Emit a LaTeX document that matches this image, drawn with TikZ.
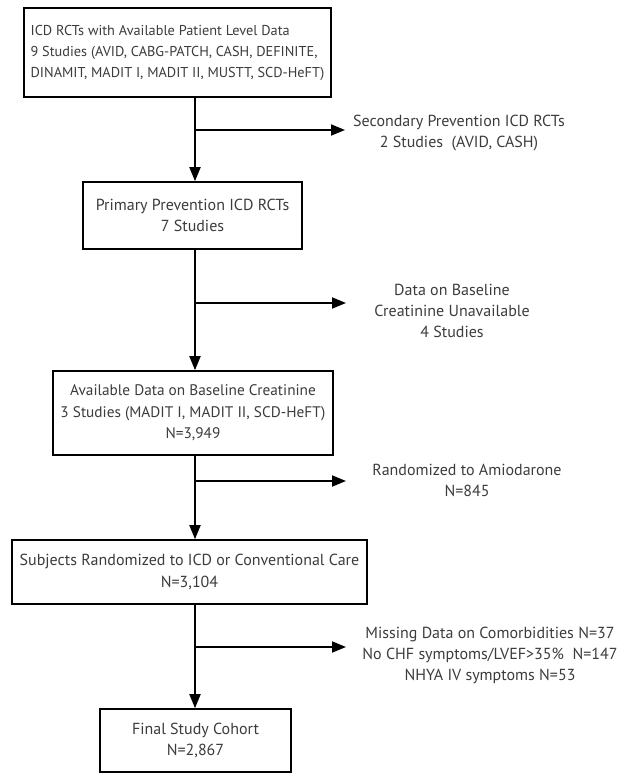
\documentclass[tikz,border=0pt]{standalone}
\usepackage{fontspec}
\setmainfont{PT Sans}
\usetikzlibrary{arrows.meta,calc}
\definecolor{txt}{HTML}{3C3C3C}
\tikzset{
  box/.style={draw=black, line width=1.6pt, fill=white, inner sep=0pt, text=txt,
    font=\fontsize{16}{21.5}\selectfont, align=center},
  side/.style={text=txt, font=\fontsize{16}{21}\selectfont, align=center, inner sep=0pt},
  flow/.style={draw=black, line width=1.8pt, -{Triangle[length=14pt,width=11pt]}}
}
\begin{document}
\begin{tikzpicture}[x=1pt,y=-1pt]
\useasboundingbox (0,0) rectangle (626,775);
% boxes
\node[box, minimum width=307pt, minimum height=89pt, align=left,
      font=\fontsize{14.3}{21}\selectfont] (b1) at (177.5,52.5)
  {ICD RCTs with Available Patient Level Data\\9 Studies (AVID, CABG-PATCH, CASH, DEFINITE,\\DINAMIT, MADIT I, MADIT II, MUSTT, SCD-HeFT)};
\node[box, minimum width=219pt, minimum height=67pt] (b2) at (192.5,215.5)
  {Primary Prevention ICD RCTs\\7 Studies};
\node[box, minimum width=280pt, minimum height=84pt,
      font=\fontsize{15.3}{21.5}\selectfont] (b3) at (193,413)
  {Available Data on Baseline Creatinine\\3 Studies (MADIT I, MADIT II, SCD-HeFT)\\N=3,949};
\node[box, minimum width=355pt, minimum height=64pt] (b4) at (189.5,572)
  {Subjects Randomized to ICD or Conventional Care\\N=3,104};
\node[box, minimum width=191pt, minimum height=63pt] (b5) at (195.5,740.5)
  {Final Study Cohort\\N=2,867};
% side texts
\node[side] (s1) at (459,133) {Secondary Prevention ICD RCTs\\2 Studies~~(AVID, CASH)};
\node[side] (s2) at (452,311) {Data on Baseline\\Creatinine Unavailable\\4 Studies};
\node[side] (s3) at (467,480) {Randomized to Amiodarone\\N=845};
\node[side] (s4) at (490,655) {Missing Data on Comorbidities N=37\\No CHF symptoms/LVEF>35\%~~N=147\\NHYA IV symptoms N=53};
% spine coordinates
\coordinate (j1) at (195,130);
\coordinate (j2) at (195,303);
\coordinate (j3) at (195,481);
\coordinate (j4) at (195,647);
\coordinate (t1) at (345,130);
\coordinate (t2) at (346,303);
\coordinate (t3) at (346,481);
\coordinate (t4) at (346,647);
% vertical flow
\draw[flow] (b1.south -| j1) -- (b2.north -| j1);
\draw[flow] (b2.south -| j1) -- (b3.north -| j1);
\draw[flow] (b3.south -| j1) -- (b4.north -| j1);
\draw[flow] (b4.south -| j1) -- (b5.north -| j1);
% side arrows
\draw[flow] (j1) -- (t1);
\draw[flow] (j2) -- (t2);
\draw[flow] (j3) -- (t3);
\draw[flow] (j4) -- (t4);
\end{tikzpicture}
\end{document}
